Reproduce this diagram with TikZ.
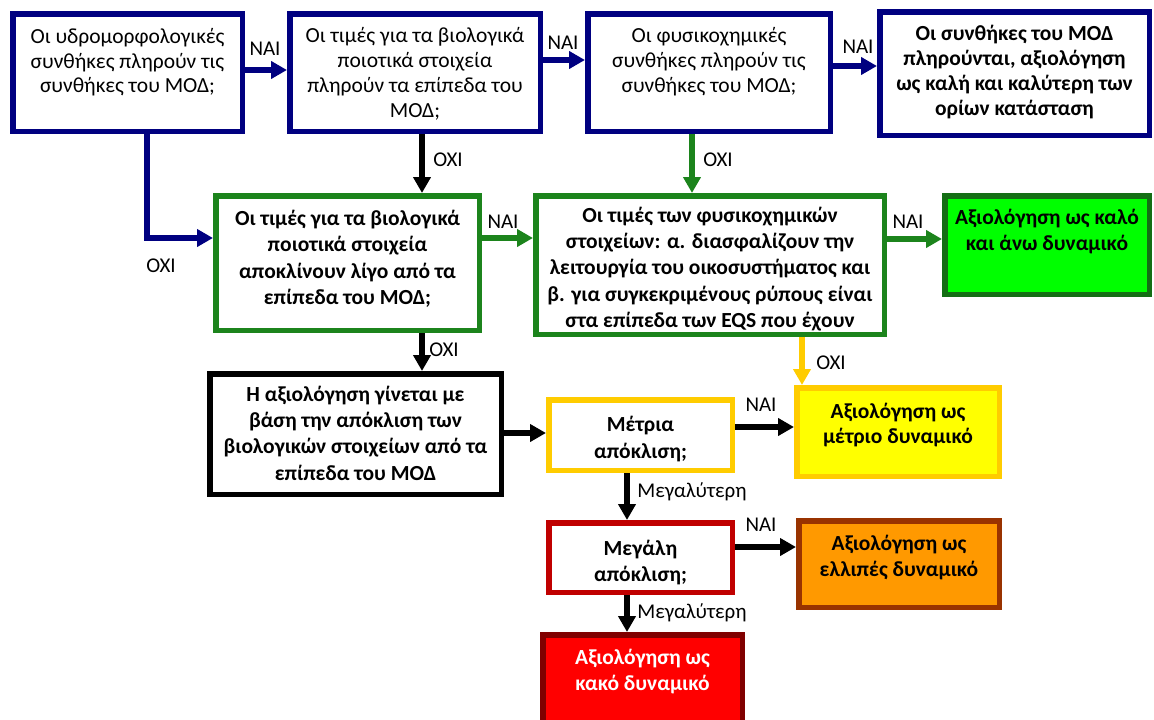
\documentclass[tikz,border=0pt]{standalone}
\usepackage{fontspec}
\setmainfont{Carlito}
\usetikzlibrary{arrows.meta}
\definecolor{navy}{RGB}{0,0,128}
\definecolor{dgreen}{RGB}{28,132,28}
\definecolor{ggreen}{RGB}{20,110,20}
\definecolor{lime}{RGB}{0,255,0}
\definecolor{ylw}{RGB}{255,204,0}
\definecolor{yfill}{RGB}{255,255,0}
\definecolor{kred}{RGB}{192,0,0}
\definecolor{orfill}{RGB}{255,153,0}
\definecolor{brown}{RGB}{153,51,0}
\definecolor{rfill}{RGB}{255,0,0}
\definecolor{dred}{RGB}{128,0,0}
\newcommand{\myfs}{21.5}
% #1 width, #2 height, #3 top pad, #4 baselineskip, #5 text
\newcommand{\mybox}[5]{\parbox[c][#2pt][t]{#1pt}{\centering\fontsize{\myfs}{#4pt}\selectfont\vspace*{#3pt}\strut #5\par}}
\begin{document}
\begin{tikzpicture}[x=1pt,y=-1pt,
  box/.style={draw, line width=5.5pt, inner sep=0pt},
  arr/.style={line width=5.5pt, -{Triangle[length=16pt,width=17pt]}},
  lbl/.style={inner sep=0pt, font=\fontsize{21}{24}\selectfont}]
\useasboundingbox (0,0) rectangle (1154,720);
\clip (0,0) rectangle (1154,720);
% row 1
\node[box, draw=navy] (A) at (127.5,72.5) {\mybox{229.5}{117.5}{13}{24.5}{Οι υδρομορφολογικές\\συνθήκες πληρούν τις\\συνθήκες του ΜΟΔ;}};
\node[box, draw=navy] (B) at (415,72.5) {\mybox{250.5}{117.5}{11}{25}{Οι τιμές για τα βιολογικά\\ποιοτικά στοιχεία\\πληρούν τα επίπεδα του\\ΜΟΔ;}};
\node[box, draw=navy] (C) at (709,72.5) {\mybox{242.5}{117.5}{11}{25}{Οι φυσικοχημικές\\συνθήκες πληρούν τις\\συνθήκες του ΜΟΔ;}};
\node[box, draw=navy] (D) at (1014.5,73.5) {\mybox{269.5}{123.5}{11}{25}{\bfseries Οι συνθήκες του ΜΟΔ\\πληρούνται, αξιολόγηση\\ως καλή και καλύτερη των\\ορίων κατάσταση}};
% row 2
\node[box, draw=dgreen] (E) at (347.5,263) {\mybox{263.5}{134.5}{11}{26.5}{\bfseries Οι τιμές για τα βιολογικά\\ποιοτικά στοιχεία\\αποκλίνουν λίγο από τα\\επίπεδα του ΜΟΔ;}};
\node[box, draw=dgreen] (F) at (710,265) {\mybox{348.5}{138.5}{8}{26.3}{\bfseries Οι τιμές των φυσικοχημικών\\στοιχείων: α. διασφαλίζουν την\\λειτουργία του οικοσυστήματος και\\β. για συγκεκριμένους ρύπους είναι\\στα επίπεδα των EQS που έχουν}};
\node[box, draw=ggreen, fill=lime] (G) at (1047,245) {\mybox{204.5}{98.5}{11}{26}{\bfseries Αξιολόγηση ως καλό\\και άνω δυναμικό}};
% row 3
\node[box, draw=black] (H) at (355.5,434) {\mybox{291.5}{120.5}{9}{26.3}{\bfseries Η αξιολόγηση γίνεται με\\βάση την απόκλιση των\\βιολογικών στοιχείων από τα\\επίπεδα του ΜΟΔ}};
\node[box, draw=ylw] (I) at (640.5,435) {\mybox{183.5}{70.5}{13}{27}{\bfseries Μέτρια\\απόκλιση;}};
\node[box, draw=ylw, fill=yfill] (J) at (898,432) {\mybox{202.5}{88.5}{14}{24.5}{\bfseries Αξιολόγηση ως\\μέτριο δυναμικό}};
\node[box, draw=kred] (K) at (640.5,557.5) {\mybox{183.5}{69.5}{15}{26}{\bfseries Μεγάλη\\απόκλιση;}};
\node[box, draw=brown, fill=orfill] (L) at (899,564) {\mybox{200.5}{86.5}{12}{26}{\bfseries Αξιολόγηση ως\\ελλιπές δυναμικό}};
\node[box, draw=dred, fill=rfill] (M) at (642.5,679) {\mybox{199.5}{88.5}{12}{26}{\color{white}\bfseries Αξιολόγηση ως\\κακό δυναμικό}};
% connectors
\draw[arr, navy] (A.east |- 0,70) -- (B.west |- 0,70);
\draw[arr, navy] (B.east |- 0,60) -- (C.west |- 0,60);
\draw[arr, navy] (C.east |- 0,66) -- (D.west |- 0,66);
\draw[arr, navy] (A.south -| 147,0) |- (E.west |- 0,238);
\draw[arr, black] (B.south -| 422,0) -- (E.north -| 422,0);
\draw[arr, dgreen] (C.south -| 692,0) -- (F.north -| 692,0);
\draw[arr, dgreen] (E.east |- 0,238) -- (F.west |- 0,238);
\draw[arr, dgreen] (F.east |- 0,239) -- (G.west |- 0,239);
\draw[arr, black] (E.south -| 422,0) -- (H.north -| 422,0);
\draw[arr, ylw] (F.south -| 802,0) -- (J.north -| 802,0);
\draw[arr, black] (H.east |- 0,433) -- (I.west |- 0,433);
\draw[arr, black] (I.east |- 0,427) -- (J.west |- 0,427);
\draw[arr, black] (I.south -| 627,0) -- (K.north -| 627,0);
\draw[arr, black] (K.east |- 0,547) -- (L.west |- 0,547);
\draw[arr, black] (K.south -| 627,0) -- (M.north -| 627,0);
% labels
\node[lbl] (l1) at (265,49) {ΝΑΙ};
\node[lbl] (l2) at (563,43) {ΝΑΙ};
\node[lbl] (l3) at (858,47) {ΝΑΙ};
\node[lbl] (l4) at (161,266) {ΟΧΙ};
\node[lbl] (l5) at (448,160) {ΟΧΙ};
\node[lbl] (l6) at (718,160) {ΟΧΙ};
\node[lbl] (l7) at (503,222) {ΝΑΙ};
\node[lbl] (l8) at (908,222) {ΝΑΙ};
\node[lbl] (l9) at (444,350) {ΟΧΙ};
\node[lbl] (l10) at (831,363) {ΟΧΙ};
\node[lbl] (l11) at (761,405) {ΝΑΙ};
\node[lbl] (l12) at (692,492) {Μεγαλύτερη};
\node[lbl] (l13) at (761,525) {ΝΑΙ};
\node[lbl] (l14) at (692,613) {Μεγαλύτερη};
\end{tikzpicture}
\end{document}
